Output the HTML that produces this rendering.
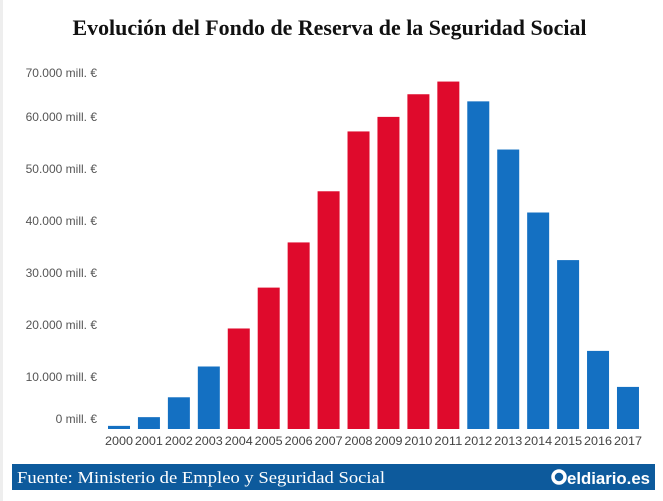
<!DOCTYPE html>
<html><head><meta charset="utf-8"><style>
html,body{margin:0;padding:0;background:#fff}
svg{display:block}
</style></head><body>
<svg id="chart" width="663" height="501" xmlns="http://www.w3.org/2000/svg">
<rect x="0" y="0" width="3" height="501" fill="#eeeeee"/>
<text x="329.5" y="35" text-anchor="middle" font-family="Liberation Serif, serif" font-weight="bold" font-size="22" textLength="514" lengthAdjust="spacingAndGlyphs" fill="#111">Evolución del Fondo de Reserva de la Seguridad Social</text>
<g id="yaxis"></g>
<g id="bars"></g>
<g id="xaxis"></g>
<rect x="12" y="464" width="643" height="26" fill="#0d5a9c"/>
<text x="17" y="483" font-family="Liberation Serif, serif" font-size="17" fill="#fff" textLength="368" lengthAdjust="spacingAndGlyphs">Fuente: Ministerio de Empleo y Seguridad Social</text>
<g>
<circle cx="559" cy="477" r="6" fill="none" stroke="#fff" stroke-width="3.5"/>
<text x="567" y="484" font-family="Liberation Sans, sans-serif" font-weight="bold" font-size="17" fill="#fff" textLength="83" lengthAdjust="spacingAndGlyphs">eldiario.es</text>
</g>
</svg>
<script>
const years=["2000","2001","2002","2003","2004","2005","2006","2007","2008","2009","2010","2011","2012","2013","2014","2015","2016","2017"];
const values=[601,2280,6100,12020,19330,27192,35879,45716,57223,60022,64375,66815,63008,53744,41634,32481,15020,8095];
const highlighted=[0,0,0,0,1,1,1,1,1,1,1,1,0,0,0,0,0,0];
const tickValues=[0,10000,20000,30000,40000,50000,60000,70000];
const tickLabels=["0 mill. €","10.000 mill. €","20.000 mill. €","30.000 mill. €","40.000 mill. €","50.000 mill. €","60.000 mill. €","70.000 mill. €"];
const NS="http://www.w3.org/2000/svg";
const base=429, pxPer=52/10000;
function y(v){return base-v*pxPer;}
function x(i){return 108+i*29.94;}
const bw=22;
const bars=document.getElementById('bars'), xa=document.getElementById('xaxis'), ya=document.getElementById('yaxis');
values.forEach((v,i)=>{
  const r=document.createElementNS(NS,'rect');
  r.setAttribute('x',x(i));r.setAttribute('y',y(v));r.setAttribute('width',bw);r.setAttribute('height',base-y(v));
  r.setAttribute('fill',highlighted[i]?'#df0a2c':'#1470c2');
  
  
  bars.appendChild(r);
  const t=document.createElementNS(NS,'text');
  t.setAttribute('x',x(i)+bw/2);t.setAttribute('y',base+16);t.setAttribute('text-anchor','middle');
  t.setAttribute('font-family','Liberation Sans, sans-serif');t.setAttribute('font-size','12');t.setAttribute('fill','#444');
  t.setAttribute('textLength','28');t.setAttribute('lengthAdjust','spacingAndGlyphs');
  t.textContent=years[i];
  
  
  xa.appendChild(t);
});
tickValues.forEach((v,i)=>{
  const t=document.createElementNS(NS,'text');
  let yy=y(v)+4;
  if(v===0) yy=base-10+4;
  if(v===70000) yy=77;
  t.setAttribute('x',97);t.setAttribute('y',yy);t.setAttribute('text-anchor','end');
  t.setAttribute('font-family','Liberation Sans, sans-serif');t.setAttribute('font-size','12');t.setAttribute('fill','#555');
  t.textContent=tickLabels[i];
  
  
  ya.appendChild(t);
});
</script>
</body></html>
